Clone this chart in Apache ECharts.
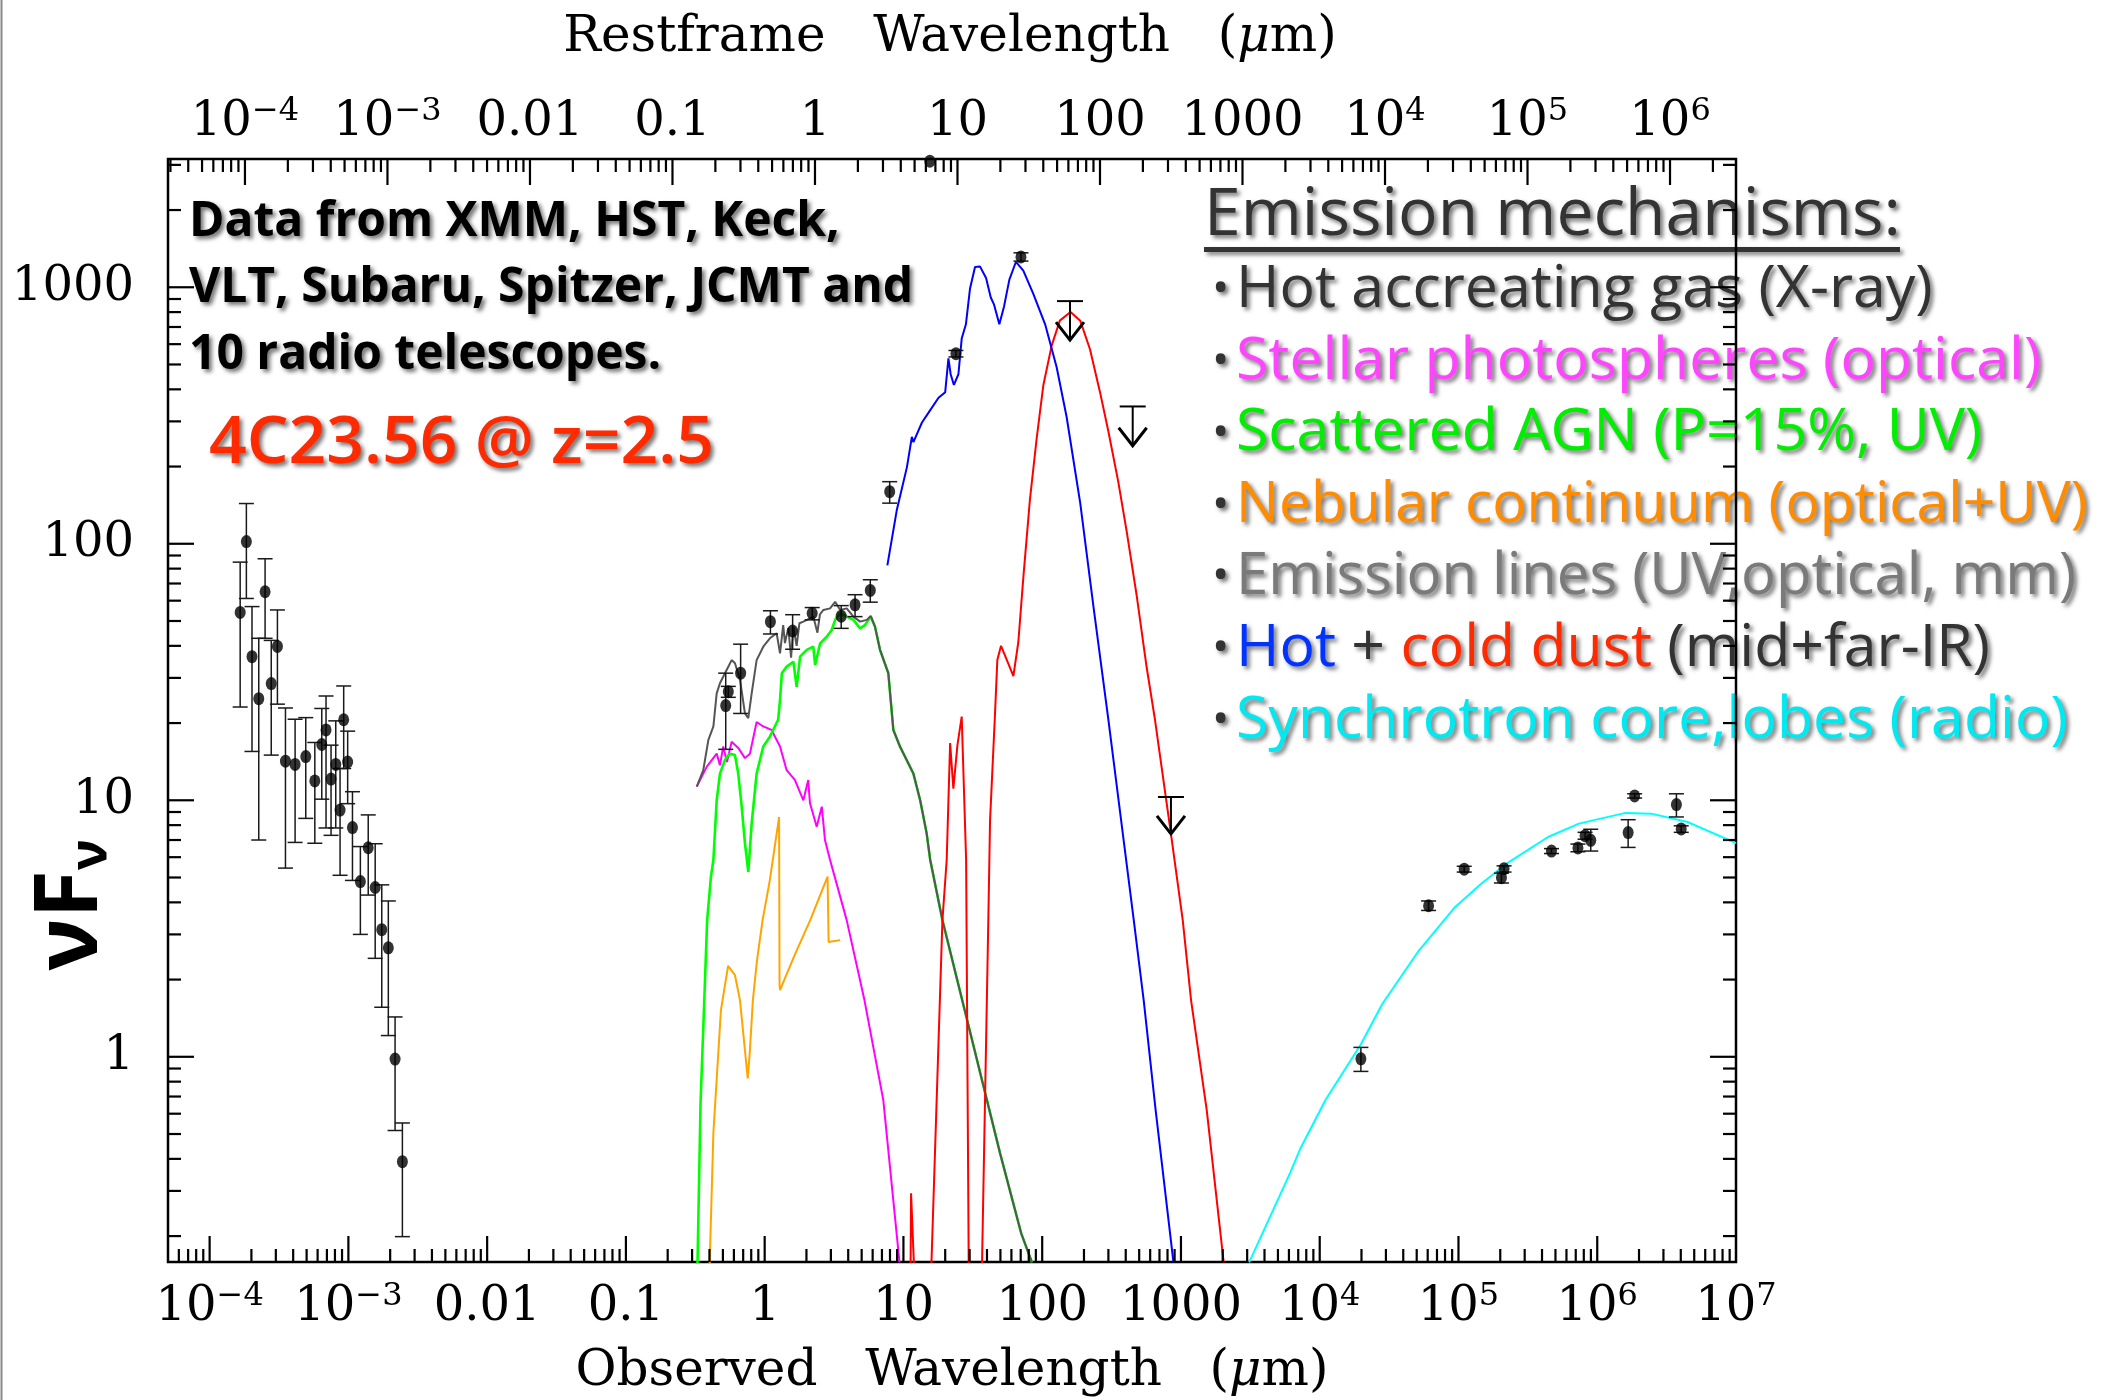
<!DOCTYPE html>
<html><head><meta charset="utf-8">
<script src="https://cdn.jsdelivr.net/npm/echarts@6/dist/echarts.min.js"></script>
<style>html,body{margin:0;padding:0;background:#fff;}#c{width:2110px;height:1400px;}</style>
</head><body><div id="c"></div>
<script>
// ---------- axis ranges ----------
const X_MIN = Math.pow(10, -4.3), X_MAX = 1e7;
const TOP_MIN = Math.pow(10, -4.54), TOP_MAX = Math.pow(10, 6.463);
const Y_MIN = Math.pow(10, -0.8), Y_MAX = Math.pow(10, 3.5);

// ---------- tick labels ----------
const bottomTickValues = [1e-4, 1e-3, 0.01, 0.1, 1, 10, 100, 1000, 1e4, 1e5, 1e6, 1e7];
const bottomTickLabels = ['10^−4', '10^−3', '0.01', '0.1', '1', '10', '100', '1000', '10^4', '10^5', '10^6', '10^7'];
const topTickValues = [1e-4, 1e-3, 0.01, 0.1, 1, 10, 100, 1000, 1e4, 1e5, 1e6];
const topTickLabels = ['10^−4', '10^−3', '0.01', '0.1', '1', '10', '100', '1000', '10^4', '10^5', '10^6'];
const yTickValues = [1, 10, 100, 1000];
const yTickLabels = ['1', '10', '100', '1000'];

// ---------- data points [wavelength, nuFnu, low, high] ----------
const xrayPoints = [
  [1.66e-4, 54, 23.1, 84.8], [1.84e-4, 102, 61.2, 143.5], [2.02e-4, 36.3, 15.5, 56.9],
  [2.26e-4, 24.9, 7.0, 42.8], [2.51e-4, 65.0, 42.8, 87.4], [2.78e-4, 28.5, 15.0, 42],
  [3.08e-4, 39.8, 23.7, 55.2], [3.52e-4, 14.2, 5.44, 22.9], [4.13e-4, 13.8, 6.85, 20.7],
  [4.93e-4, 14.8, 8.5, 21.0], [5.73e-4, 11.9, 6.8, 16.8], [6.43e-4, 16.5, 10.1, 22.8],
  [6.90e-4, 18.8, 7.8, 25.5], [7.50e-4, 12.1, 7.3, 16.4], [8.11e-4, 13.8, 7.8, 20.4],
  [8.71e-4, 9.16, 5.1, 13.3], [9.25e-4, 20.6, 13.3, 27.9], [9.88e-4, 14.1, 9.7, 18.6],
  [1.07e-3, 7.83, 4.87, 10.8], [1.22e-3, 4.82, 3.0, 6.6], [1.39e-3, 6.53, 4.27, 8.77],
  [1.56e-3, 4.57, 2.42, 6.77], [1.74e-3, 3.13, 1.56, 4.68], [1.94e-3, 2.66, 1.21, 4.05],
  [2.17e-3, 0.98, 0.516, 1.43], [2.45e-3, 0.39, 0.199, 0.552]
];
const opticalIrPoints = [
  [0.547, 26.5, 25.2, 27.8], [0.524, 23.4, 15.8, 31.3], [0.671, 31.3, 21.8, 40.6],
  [1.10, 49.7, 44.5, 54.8], [1.59, 45.7, 38.8, 52.9], [2.20, 53.6, 50.5, 56.4],
  [3.56, 52.2, 46.8, 57.4], [4.48, 57.8, 52.0, 63.3], [5.77, 65.8, 59.2, 72.4],
  [7.96, 159.6, 144, 174.6], [23.9, 551, 535, 567], [70.3, 1313, 1265, 1362],
  [15.5, 3100, 3100, 3100]
];
const radioPoints = [
  [1.98e4, 0.982, 0.877, 1.088], [6.09e4, 3.88, 3.72, 4.05], [1.10e5, 5.39, 5.25, 5.53],
  [2.13e5, 5.41, 5.25, 5.55], [2.04e5, 4.99, 4.76, 5.2], [4.68e5, 6.34, 6.2, 6.48],
  [7.26e5, 6.52, 6.3, 6.75], [8.17e5, 7.28, 7.05, 7.5], [8.98e5, 6.98, 6.34, 7.71],
  [1.67e6, 7.48, 6.55, 8.40], [1.86e6, 10.4, 10.2, 10.6], [3.72e6, 9.62, 8.61, 10.6],
  [4.03e6, 7.73, 7.5, 7.95]
];
// upper limits [wavelength, limit, arrow tip]
const upperLimits = [[158.6, 883, 622], [449, 343, 241], [847, 10.3, 7.4]];

// ---------- model curves [wavelength, nuFnu] ----------
const nebularCurve = [
  [0.392, 0.1], [0.427, 0.505], [0.484, 1.52], [0.545, 2.26], [0.611, 2.08], [0.664, 1.66],
  [0.721, 1.06], [0.755, 0.824], [0.783, 1.06], [0.822, 1.66], [0.881, 2.38], [0.966, 3.41],
  [1.09, 4.89], [1.27, 8.6], [1.28, 1.91], [1.29, 1.82], [1.65, 2.50], [2.13, 3.41],
  [2.84, 5.04], [2.89, 2.80], [3.50, 2.85]
];
const stellarCurve = [
  [0.324, 11.3], [0.382, 13.5], [0.451, 15.2], [0.476, 13.7], [0.503, 16.2], [0.535, 14.1],
  [0.578, 16.9], [0.645, 16.0], [0.721, 14.6], [0.783, 15.2], [0.875, 20.2], [0.977, 19.4],
  [1.12, 18.8], [1.29, 16.2], [1.44, 13.1], [1.65, 12.0], [1.90, 10.0], [2.06, 12.0],
  [2.12, 9.75], [2.37, 7.89], [2.58, 9.44], [2.72, 7.00], [2.96, 5.85], [3.90, 3.41],
  [5.24, 1.66], [7.16, 0.678], [9.37, 0.158]
];
const agnCurve = [
  [0.323, 0.1], [0.345, 0.661], [0.360, 1.24], [0.385, 3.41], [0.410, 5.04], [0.427, 5.85],
  [0.451, 10.0], [0.476, 12.7], [0.518, 14.4], [0.562, 15.2], [0.611, 15.0], [0.645, 12.7],
  [0.683, 9.44], [0.721, 6.79], [0.762, 5.26], [0.806, 8.12], [0.875, 12.7], [0.977, 16.2],
  [1.09, 17.7], [1.25, 20.6], [1.29, 24.6], [1.33, 31.3], [1.44, 33.2], [1.61, 34.7],
  [1.70, 27.7], [1.80, 36.3], [2.01, 38.6], [2.24, 39.7], [2.31, 33.7], [2.51, 40.9],
  [2.80, 43.4], [3.04, 46.1], [3.22, 50.5], [3.50, 53.6], [3.90, 52.0], [4.36, 50.5],
  [4.87, 46.8], [5.28, 48.2], [5.81, 52.0], [6.24, 47.5], [6.78, 38.6], [7.78, 31.3],
  [8.46, 18.8], [9.44, 16.2], [11.8, 12.7], [13.2, 10.0], [14.7, 7.43], [15.6, 5.85],
  [19.1, 3.41], [49.7, 0.421], [70.6, 0.205], [84.4, 0.158]
];
const emissionLineCurve = [
  [0.324, 11.3], [0.361, 13.1], [0.393, 17.2], [0.427, 19.4], [0.451, 26.1], [0.476, 28.6],
  [0.532, 32.2], [0.578, 35.2], [0.611, 34.2], [0.664, 29.5], [0.721, 21.8], [0.762, 20.9],
  [0.806, 26.1], [0.875, 35.2], [0.977, 39.7], [1.09, 42.8], [1.22, 44.8], [1.29, 37.4],
  [1.36, 48.2], [1.40, 41], [1.48, 47], [1.55, 36], [1.61, 47.5], [1.70, 40], [1.78, 49],
  [1.90, 49.7], [2.24, 52.0], [2.40, 45], [2.50, 53], [2.65, 55.2], [2.96, 56.0],
  [3.22, 59.4], [3.50, 55.2], [3.90, 56.0], [4.36, 52.0], [4.87, 49.7], [5.44, 50.5],
  [5.81, 52.3], [6.24, 47.5], [6.78, 38.6], [7.78, 31.3], [8.46, 18.8], [9.44, 16.2],
  [11.8, 12.7], [13.2, 10.0], [14.7, 7.43], [15.6, 5.85], [19.1, 3.41], [49.7, 0.421],
  [70.6, 0.205], [84.4, 0.158]
];
const hotDustCurve = [
  [7.66, 82.4], [8.95, 135], [10.6, 199], [11.5, 261], [11.8, 249], [13.6, 297], [15.6, 332],
  [17.9, 371], [20.0, 390], [21.1, 528], [21.9, 458], [23.1, 416], [24.9, 458], [26.3, 631],
  [28.2, 717], [30.2, 989], [32.8, 1199], [35.6, 1206], [39.4, 1087], [42.6, 912],
  [45.0, 855], [49.1, 717], [53.1, 842], [58.0, 1071], [64.7, 1257], [73.1, 1161],
  [86.3, 942], [105, 717], [127, 489], [150, 312], [188, 144], [234, 57.0], [300, 20.6],
  [457, 3.41], [539, 1.66], [657, 0.62], [883, 0.158]
];
const coldDustCurve = [
  [11.2, 0.1], [11.35, 0.294], [12.3, 0.1], [15.5, 0.1], [19.1, 3.41], [20.5, 5.85],
  [21.7, 16.7], [22.9, 11.1], [24.5, 16.4], [26.3, 21.2], [28.3, 5.85], [29.7, 0.1],
  [36.3, 0.1], [40.9, 3.41], [42.1, 8.37], [45.5, 20.6], [47.5, 35.2], [50.5, 40.0],
  [57.0, 34.1], [62.0, 30.5], [67.3, 41.4], [73.1, 73.6], [81.6, 149], [91.2, 257],
  [102, 416], [117, 592], [134, 741], [160, 801], [188, 741], [221, 573], [261, 390],
  [300, 274], [353, 175], [406, 112], [480, 62.7], [566, 33.0], [650, 20.6], [847, 7.4],
  [1030, 3.41], [1183, 1.66], [1534, 0.62], [2032, 0.158]
];
const synchrotronCurve = [
  [3100, 0.158], [6110, 0.352], [7210, 0.436], [11000, 0.678], [19800, 1.12], [28300, 1.61],
  [51700, 2.59], [94300, 3.83], [145000, 4.72], [222000, 5.66], [442000, 7.19],
  [738000, 8.11], [1.6e6, 8.93], [2.45e6, 8.87], [4.47e6, 8.23], [1e7, 6.81]
];

// ---------- annotation text ----------
const creditLines = ['Data from XMM, HST, Keck,', 'VLT, Subaru, Spitzer, JCMT and', '10 radio telescopes.'];
const sourceName = '4C23.56 @ z=2.5';
const mechTitle = 'Emission mechanisms:';
const mechItems = [
  {text: 'Hot accreating gas (X-ray)', color: '#333333', size: 59},
  {text: 'Stellar photospheres (optical)', color: '#ff44ff', size: 59},
  {text: 'Scattered AGN (P=15%, UV)', color: '#00ee00', size: 59},
  {text: 'Nebular continuum (optical+UV)', color: '#ff8c00', size: 57},
  {text: 'Emission lines (UV,optical, mm)', color: '#7a7a7a', size: 58},
  {text: '{h|Hot} + {c|cold dust} (mid+far-IR)', color: '#333333', size: 59},
  {text: 'Synchrotron core,lobes (radio)', color: '#00e8f0', size: 59}
];

// ---------- helpers ----------
function tickList(lo, hi) {
  const out = [];
  for (let e = Math.floor(Math.log10(lo)); e <= Math.ceil(Math.log10(hi)); e++) {
    for (let m = 1; m <= 9; m++) {
      const v = m * Math.pow(10, e);
      if (v >= lo * 1.0001 && v <= hi / 1.0001) out.push([v, m === 1 ? 2 : 1]);
    }
  }
  return out;
}
function richLabel(s) {
  const i = s.indexOf('^');
  if (i < 0) return '{b|' + s + '}';
  return '{b|' + s.slice(0, i) + '}{s|' + s.slice(i + 1) + '}';
}
const SERIF = 'DejaVu Serif';
const labelRich = {
  b: {fontFamily: SERIF, fontSize: 48, lineHeight: 54, fill: '#000', color: '#000'},
  s: {fontFamily: SERIF, fontSize: 32, lineHeight: 54, verticalAlign: 'top', fill: '#000', color: '#000'}
};
function tickSeries(side) {
  const data = side === 'top' ? tickList(TOP_MIN, TOP_MAX) :
               side === 'bottom' ? tickList(X_MIN, X_MAX) : tickList(Y_MIN, Y_MAX);
  return {
    type: 'custom', xAxisIndex: side === 'top' ? 1 : 0, yAxisIndex: 0, z: 6, silent: true,
    data: data,
    renderItem: function (params, api) {
      const v = api.value(0), len = api.value(1) === 2 ? 26 : 13;
      let p, shape;
      if (side === 'bottom') { p = api.coord([v, Y_MIN]); shape = {x1: p[0], y1: p[1], x2: p[0], y2: p[1] - len}; }
      else if (side === 'top') { p = api.coord([v, Y_MAX]); shape = {x1: p[0], y1: p[1], x2: p[0], y2: p[1] + len}; }
      else if (side === 'left') { p = api.coord([X_MIN, v]); shape = {x1: p[0], y1: p[1], x2: p[0] + len, y2: p[1]}; }
      else { p = api.coord([X_MAX, v]); shape = {x1: p[0], y1: p[1], x2: p[0] - len, y2: p[1]}; }
      return {type: 'line', shape: shape, style: {stroke: '#000', lineWidth: 2.2}};
    }
  };
}
function labelSeries(side) {
  const vals = side === 'top' ? topTickValues : side === 'bottom' ? bottomTickValues : yTickValues;
  const labs = side === 'top' ? topTickLabels : side === 'bottom' ? bottomTickLabels : yTickLabels;
  return {
    type: 'custom', xAxisIndex: side === 'top' ? 1 : 0, yAxisIndex: 0, z: 6, silent: true,
    data: vals.map(v => [v, 1]),
    renderItem: function (params, api) {
      const v = api.value(0);
      const txt = richLabel(labs[params.dataIndex]);
      let p, x, y, align = 'center';
      if (side === 'bottom') { p = api.coord([v, Y_MIN]); x = p[0]; y = p[1] + 46; }
      else if (side === 'top') { p = api.coord([v, Y_MAX]); x = p[0]; y = p[1] - 36; }
      else { p = api.coord([X_MIN, v]); x = p[0] - 34; y = p[1]; align = 'right'; }
      return {type: 'text', x: x, y: y, style: {text: txt, rich: labelRich, align: align, verticalAlign: 'middle', fill: '#000', font: '48px "DejaVu Serif"'}};
    }
  };
}
function errorBarSeries(points) {
  return {
    type: 'custom', z: 4, silent: true, encode: {x: 0, y: 1},
    data: points.filter(p => p[2] !== p[3]),
    renderItem: function (params, api) {
      const x = api.value(0);
      const a = api.coord([x, api.value(2)]), b = api.coord([x, api.value(3)]);
      const hw = 7.5, st = {stroke: '#1a1a1a', lineWidth: 1.5};
      return {type: 'group', children: [
        {type: 'line', shape: {x1: a[0], y1: a[1], x2: b[0], y2: b[1]}, style: st},
        {type: 'line', shape: {x1: a[0] - hw, y1: a[1], x2: a[0] + hw, y2: a[1]}, style: st},
        {type: 'line', shape: {x1: b[0] - hw, y1: b[1], x2: b[0] + hw, y2: b[1]}, style: st}
      ]};
    }
  };
}
function curve(data, color, width, z) {
  return {type: 'line', data: data, showSymbol: false, symbol: 'none', clip: true, z: z || 2,
          lineStyle: {color: color, width: width || 2}, silent: true};
}
const shadow = {textShadowColor: 'rgba(0,0,0,0.55)', textShadowBlur: 4, textShadowOffsetX: 3, textShadowOffsetY: 3};
const COMIC = '"Open Sans", "Noto Sans", sans-serif';
const titleRich = {i: {fontFamily: SERIF, fontSize: 50, fontStyle: 'italic', fill: '#000'}};

const graphics = [
  {type: 'line', z: -5, shape: {x1: 1.5, y1: 0, x2: 1.5, y2: 1400}, style: {stroke: '#888', lineWidth: 2}},
  {type: 'text', z: -5, x: 950, y: 38, style: {text: 'Restframe   Wavelength   ({i|μ}m)', align: 'center', verticalAlign: 'middle',
     font: '50px "DejaVu Serif"', fill: '#000', rich: titleRich}},
  {type: 'text', z: -5, x: 952, y: 1372, style: {text: 'Observed   Wavelength   ({i|μ}m)', align: 'center', verticalAlign: 'middle',
     font: '50px "DejaVu Serif"', fill: '#000', rich: titleRich}},
  {type: 'text', z: -5, x: 72, y: 905, rotation: Math.PI / 2, style: {text: '{m|νF}{s|ν}', align: 'center', verticalAlign: 'middle',
     rich: {m: {fontFamily: COMIC, fontSize: 88, fontWeight: 'bold', fill: '#000', lineHeight: 90}, s: {fontFamily: COMIC, fontSize: 52, fontWeight: 'bold', fill: '#000', lineHeight: 90, verticalAlign: 'bottom'}}}}
];
creditLines.forEach((t, i) => graphics.push({type: 'text', z: -5, x: 189, y: 222 + i * 66.5,
  style: Object.assign({text: t, font: 'bold 48px ' + COMIC, fill: '#000', verticalAlign: 'middle'}, shadow)}));
graphics.push({type: 'text', z: -5, x: 209, y: 444,
  style: Object.assign({text: sourceName, font: '600 66px ' + COMIC, fill: '#ff2a00', verticalAlign: 'middle'}, shadow)});
graphics.push({type: 'text', z: -5, x: 1204, y: 216,
  style: Object.assign({text: mechTitle, font: '66px ' + COMIC, fill: '#333', verticalAlign: 'middle'}, shadow)});
graphics.push({type: 'rect', z: -5, shape: {x: 1204, y: 247, width: 696, height: 5},
  style: {fill: '#333', shadowColor: 'rgba(0,0,0,0.5)', shadowBlur: 4, shadowOffsetX: 3, shadowOffsetY: 3}});
mechItems.forEach((it, i) => {
  const y = 290 + i * 71.8;
  graphics.push({type: 'text', z: -5, x: 1212, y: y,
    style: Object.assign({text: '•', font: '46px ' + COMIC, fill: '#333', verticalAlign: 'middle'}, shadow)});
  graphics.push({type: 'text', z: -5, x: 1236, y: y,
    style: Object.assign({text: it.text, font: it.size + 'px ' + COMIC, fill: it.color, verticalAlign: 'middle',
      rich: {h: {fontFamily: COMIC, fontSize: it.size, fill: '#0033ff'}, c: {fontFamily: COMIC, fontSize: it.size, fill: '#ff2a00'}}}, shadow)});
});

const chart = echarts.init(document.getElementById('c'), null, {renderer: 'canvas'});
chart.setOption({
  animation: false,
  backgroundColor: '#fff',
  grid: {left: 168, right: 374, top: 159, bottom: 138, show: true, borderColor: '#000', borderWidth: 2.5, backgroundColor: 'transparent', z: 1},
  xAxis: [
    {type: 'log', min: X_MIN, max: X_MAX, position: 'bottom', axisLine: {show: false}, axisTick: {show: false}, axisLabel: {show: false}, splitLine: {show: false}},
    {type: 'log', min: TOP_MIN, max: TOP_MAX, position: 'top', axisLine: {show: false}, axisTick: {show: false}, axisLabel: {show: false}, splitLine: {show: false}}
  ],
  yAxis: [
    {type: 'log', min: Y_MIN, max: Y_MAX, axisLine: {show: false}, axisTick: {show: false}, axisLabel: {show: false}, splitLine: {show: false}}
  ],
  graphic: graphics,
  series: [
    curve(nebularCurve, '#ffa500', 2),
    curve(stellarCurve, '#ff00ff', 2),
    curve(agnCurve, '#00ff00', 2.6),
    curve(emissionLineCurve, '#555555', 2),
    curve(coldDustCurve, '#ff0000', 2),
    curve(hotDustCurve, '#0000ff', 2),
    curve(synchrotronCurve, '#00ffff', 2),
    errorBarSeries(xrayPoints), errorBarSeries(opticalIrPoints), errorBarSeries(radioPoints),
    {type: 'scatter', z: 5, silent: true, symbol: 'circle', symbolSize: [11, 13], itemStyle: {color: '#000'},
     data: xrayPoints.concat(opticalIrPoints, radioPoints).map(p => [p[0], p[1]])},
    {type: 'custom', z: 5, silent: true, data: upperLimits,
     renderItem: function (params, api) {
       const x = api.value(0);
       const c = api.coord([x, api.value(1)]), t = api.coord([x, api.value(2)]);
       return {type: 'group', children: [
         {type: 'line', shape: {x1: c[0] - 13, y1: c[1], x2: c[0] + 13, y2: c[1]}, style: {stroke: '#000', lineWidth: 2}},
         {type: 'line', shape: {x1: c[0], y1: c[1], x2: t[0], y2: t[1]}, style: {stroke: '#000', lineWidth: 2}},
         {type: 'polyline', shape: {points: [[t[0] - 14, t[1] - 18], [t[0], t[1]], [t[0] + 14, t[1] - 18]]}, style: {stroke: '#000', lineWidth: 3, fill: null}}
       ]};
     }},
    tickSeries('bottom'), tickSeries('top'), tickSeries('left'), tickSeries('right'),
    labelSeries('bottom'), labelSeries('top'), labelSeries('left')
  ]
});
</script></body></html>
